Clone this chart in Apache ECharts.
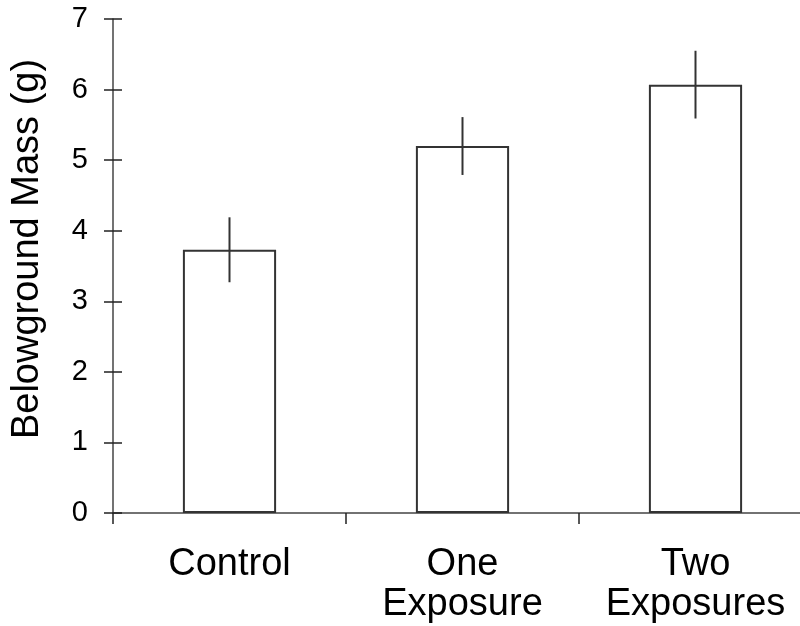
<!DOCTYPE html>
<html><head><meta charset="utf-8">
<script src="https://cdn.jsdelivr.net/npm/echarts@6/dist/echarts.min.js"></script>
<style>html,body{margin:0;padding:0;background:#fff;overflow:hidden;width:800px;height:626px}#c{width:812px;height:626px}</style>
</head><body><div id="c"></div>
<script>
const categories = ['Control', 'One\nExposure', 'Two\nExposures'];
const means = [3.73, 5.20, 6.07];
const errors = [0.46, 0.41, 0.48];
const yTicks = [0, 1, 2, 3, 4, 5, 6, 7];

const chart = echarts.init(document.getElementById('c'));
const font = 'Liberation Sans, Arial, sans-serif';
const axisCol = '#444';
chart.setOption({
  animation: false,
  grid: { left: 113, top: 19, bottom: 113, right: 0, containLabel: false },
  xAxis: {
    type: 'category', data: categories,
    axisLine: { lineStyle: { color: axisCol, width: 1.5 } },
    axisTick: { show: true, length: 11, lineStyle: { color: '#222', width: 1.5 } },
    axisLabel: { interval: 0, color: '#000', fontFamily: font, fontSize: 38, lineHeight: 40, margin: 32 }
  },
  yAxis: [{
    type: 'value', min: yTicks[0], max: yTicks[yTicks.length - 1], interval: 1,
    splitLine: { show: false },
    axisLine: { show: true, lineStyle: { color: axisCol, width: 1.5 } },
    axisTick: { show: true, length: 9, lineStyle: { color: '#222', width: 1.5 } },
    axisLabel: { color: '#000', fontFamily: font, fontSize: 29, margin: 25 },
    name: 'Belowground Mass (g)', nameLocation: 'middle', nameGap: 66,
    nameTextStyle: { color: '#000', fontFamily: font, fontSize: 38, padding: [0, 0, 0, 34] }
  }, {
    type: 'value', min: yTicks[0], max: yTicks[yTicks.length - 1], interval: 1, position: 'left',
    splitLine: { show: false }, axisLine: { show: false },
    axisTick: { show: true, inside: true, length: 9, lineStyle: { color: '#222', width: 1.5 } },
    axisLabel: { show: false }
  }],
  series: [{
    type: 'bar', data: means, barWidth: '40%',
    itemStyle: { color: '#fff', borderColor: '#333', borderWidth: 2 }
  }, {
    type: 'custom',
    data: means.map((m, i) => [i, m - errors[i], m + errors[i]]),
    renderItem: function (params, api) {
      const lo = api.coord([api.value(0), api.value(1)]);
      const hi = api.coord([api.value(0), api.value(2)]);
      return { type: 'line', shape: { x1: lo[0], y1: lo[1], x2: hi[0], y2: hi[1] },
        style: { stroke: '#333', lineWidth: 2 } };
    },
    z: 5
  }]
});
</script></body></html>
